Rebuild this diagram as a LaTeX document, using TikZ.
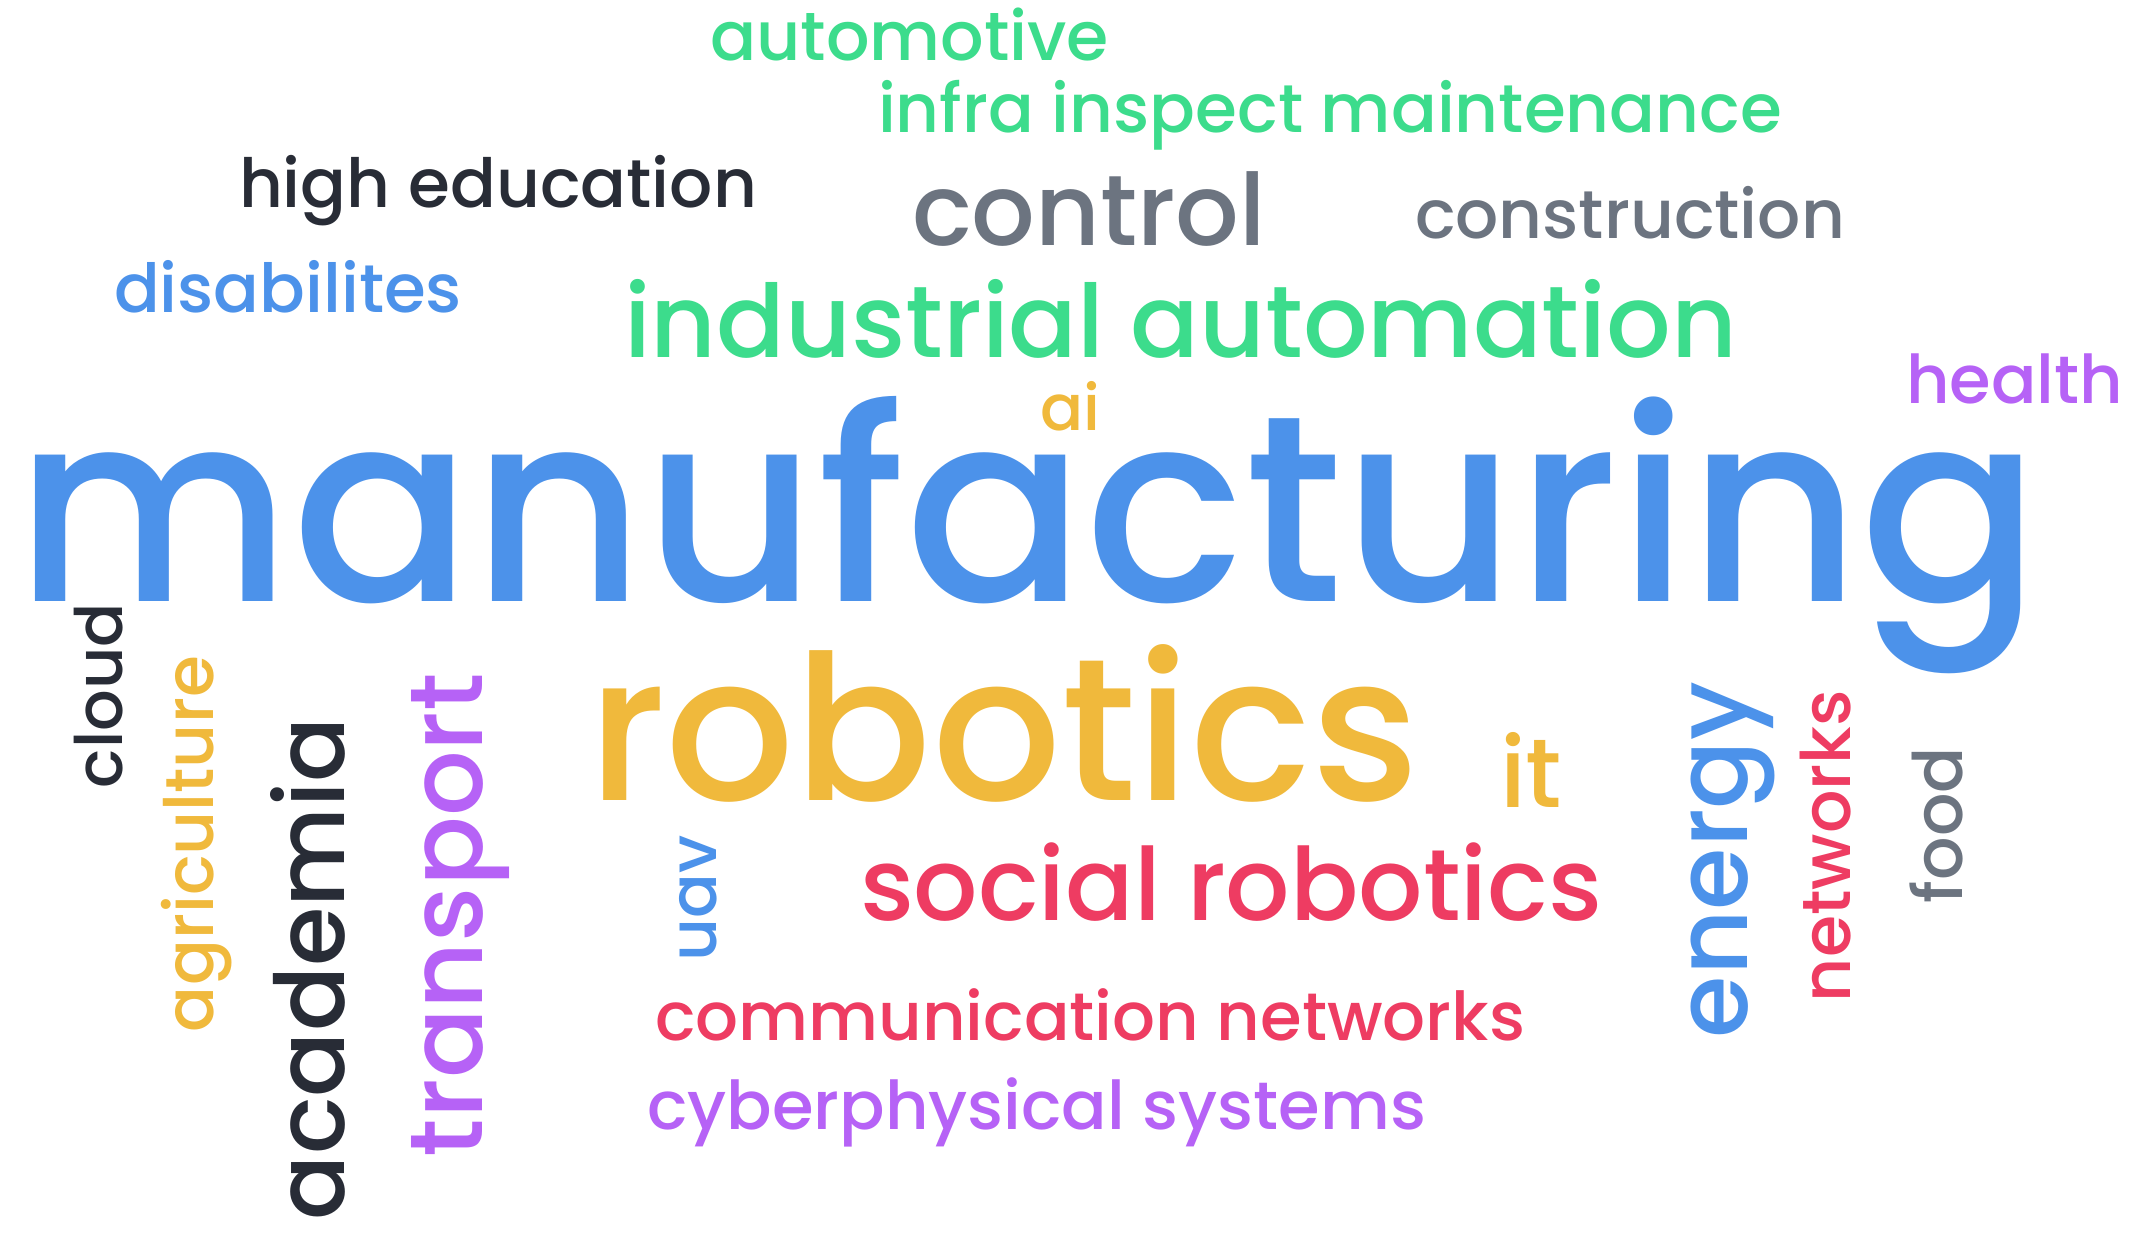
\documentclass[tikz,border=0pt]{standalone}
\usepackage{fontspec}
\usepackage{graphicx}
\setmainfont{Poppins}[UprightFont=* Medium]
\definecolor{wblue}{RGB}{76,146,234}
\definecolor{wgreen}{RGB}{60,220,140}
\definecolor{wyellow}{RGB}{240,185,60}
\definecolor{wred}{RGB}{238,60,98}
\definecolor{wpurple}{RGB}{182,98,246}
\definecolor{wgray}{RGB}{108,116,128}
\definecolor{wdark}{RGB}{40,44,54}
\newlength\wclen
\def\wch{1}
\newcommand\wcfit[2]{%
  \settowidth\wclen{\fontsize{100pt}{100pt}\selectfont #2}%
  \pgfmathsetmacro\wcsz{#1/\wclen*100/\wch}%
  \fontsize{\wcsz pt}{\wcsz pt}\selectfont\scalebox{\wch}[1]{#2}}
\newcommand\wcword[7]{%
  \node[word,text=#5,rotate=#6] (#1) at (#2pt,-#3pt) {\wcfit{#4}{#7}};%
}
\tikzset{word/.style={anchor=base west,inner sep=0pt,outer sep=0pt}}
\begin{document}
\begin{tikzpicture}
\useasboundingbox[fill=white] (0pt,0pt) rectangle (2141pt,-1240pt);
\wcword{automotive}{710}{60}{399}{wgreen}{0}{automotive}
\wcword{infra}{878}{132}{904}{wgreen}{0}{infra inspect maintenance}
\wcword{higher}{239}{207}{518}{wdark}{0}{high education}
\wcword{control}{912}{245}{354}{wgray}{0}{control}
\wcword{construction}{1415}{238}{430}{wgray}{0}{construction}
\wcword{disab}{114}{312}{348}{wblue}{0}{disabilites}
\wcword{industrial}{624}{357}{1113}{wgreen}{0}{industrial automation}
\wcword{health}{1906}{403}{217}{wpurple}{0}{health}
\wcword{ai}{1040}{430}{60}{wyellow}{0}{ai}
\wcword{manufacturing}{16}{601}{2025}{wblue}{0}{manufacturing}
\wcword{robotics}{588}{800}{832}{wyellow}{0}{robotics}
\wcword{it}{1500}{807}{62}{wyellow}{0}{it}
\wcword{social}{860}{920}{742}{wred}{0}{social robotics}
\wcword{comm}{655}{1040}{870}{wred}{0}{communication networks}
\wcword{cyber}{647}{1129}{779}{wpurple}{0}{cyberphysical systems}
\wcword{cloud}{122}{788}{185}{wdark}{90}{cloud}
\wcword{agriculture}{213}{1032}{376}{wyellow}{90}{agriculture}
\wcword{academia}{344}{1220}{503}{wdark}{90}{academia}
\wcword{transport}{482}{1157}{484}{wpurple}{90}{transport}
\wcword{uav}{716}{961}{126}{wblue}{90}{uav}
\wcword{energy}{1747}{1038}{356}{wblue}{90}{energy}
\wcword{networks}{1850}{1002}{312}{wred}{90}{networks}
\wcword{food}{1962}{903}{156}{wgray}{90}{food}
\end{tikzpicture}
\end{document}
